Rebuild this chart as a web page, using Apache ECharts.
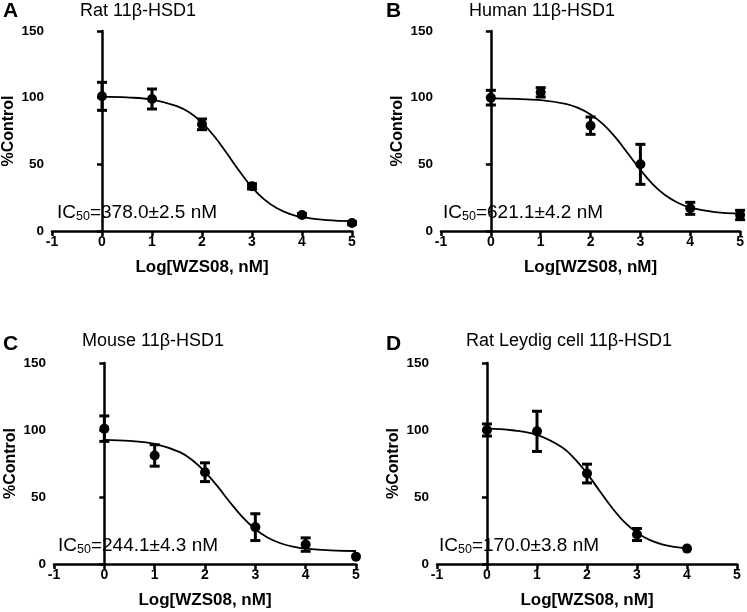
<!DOCTYPE html>
<html>
<head>
<meta charset="utf-8">
<title>11β-HSD1 inhibition by WZS08</title>
<style>
  html, body { margin: 0; padding: 0; background: #fff; }
  #chart { width: 747px; height: 612px; }
</style>
</head>
<body>
<div id="chart"></div>
<script src="https://cdn.jsdelivr.net/npm/echarts@6/dist/echarts.min.js"></script>
<script>
// measured points (log dose, mean %control, SEM)
var doseX = [0, 1, 2, 3, 4, 5];
var leydigX = [0, 1, 2, 3, 4];

var ratMean = [101, 99, 80, 33.5, 12, 6];
var ratErr = [10.5, 7.5, 4, 2, 1, 1];
var humanMean = [100, 104, 79, 50, 17, 12];
var humanErr = [5.5, 3.5, 6.5, 15, 4.5, 3.5];
var mouseMean = [101, 81, 68.5, 27.5, 14.5, 5.5];
var mouseErr = [9.5, 8, 7, 10, 5, 0];
var leydigMean = [100, 99, 67.5, 22, 11.5];
var leydigErr = [4.5, 15, 7, 4.5, 0];

// fitted curves
var fitX = [0, 0.5, 1, 1.5, 1.75, 2, 2.25, 2.5, 2.75, 3, 3.25, 3.5, 3.75, 4, 4.5, 5];
var ratFit = [100.8, 100.2, 98.6, 93.7, 88.8, 81.3, 70.9, 58.1, 44.8, 32.7, 23.5, 17.0, 12.9, 10.4, 8.1, 7.4];
var humanFit = [99.4, 99.1, 98.1, 95.3, 92.3, 87.4, 80.2, 70.2, 58.1, 45.8, 35.0, 26.8, 21.2, 17.6, 14.2, 13.0];
var mouseFit = [92.7, 91.9, 89.7, 83.5, 77.4, 68.8, 57.9, 45.9, 34.8, 25.9, 19.6, 15.5, 13.0, 11.5, 10.1, 9.7];
var leydigFitX = [0, 0.5, 1, 1.5, 1.75, 2, 2.25, 2.5, 2.75, 3, 3.25, 3.5, 3.75, 4];
var leydigFit = [101.0, 99.8, 96.4, 87.2, 78.7, 67.6, 54.7, 42.0, 31.2, 23.3, 18.0, 14.7, 12.7, 11.5];

var xTicks = ['-1', '0', '1', '2', '3', '4', '5'];
var yTicks = ['0', '50', '100', '150'];

var letters = ['A', 'B', 'C', 'D'];
var names = ['Rat 11β-HSD1', 'Human 11β-HSD1', 'Mouse 11β-HSD1', 'Rat Leydig cell 11β-HSD1'];
var ic50 = ['378.0±2.5', '621.1±4.2', '244.1±4.3', '170.0±3.8'];

var font = "'Liberation Sans', Arial, Helvetica, sans-serif";

var panels = [
  { x: doseX, mean: ratMean, err: ratErr, fx: fitX, fy: ratFit,
    grid: { left: 52, width: 300, top: 31, height: 200 },
    letter: [3, 1], name: [80, 2], ic: [57, 202] },
  { x: doseX, mean: humanMean, err: humanErr, fx: fitX, fy: humanFit,
    grid: { left: 441, width: 300, top: 31, height: 200 },
    letter: [386, 1], name: [469, 2], ic: [443, 202] },
  { x: doseX, mean: mouseMean, err: mouseErr, fx: fitX, fy: mouseFit,
    grid: { left: 54, width: 302, top: 363, height: 201 },
    letter: [3, 334], name: [82, 332], ic: [58, 535] },
  { x: leydigX, mean: leydigMean, err: leydigErr, fx: leydigFitX, fy: leydigFit,
    grid: { left: 437, width: 300, top: 363, height: 201 },
    letter: [386, 334], name: [466, 332], ic: [439, 535] }
];

function zip(a, b) {
  var out = [];
  for (var i = 0; i < a.length; i++) out.push([a[i], b[i]]);
  return out;
}

function errorBars(params, api) {
  var x = api.value(0), y = api.value(1), e = api.value(2);
  if (!e) return null;
  var hi = api.coord([x, y + e]);
  var lo = api.coord([x, y - e]);
  var cap = 5;
  var st = { stroke: '#000', lineWidth: 3 };
  return {
    type: 'group',
    children: [
      { type: 'line', shape: { x1: hi[0], y1: hi[1], x2: lo[0], y2: lo[1] }, style: st },
      { type: 'line', shape: { x1: hi[0] - cap, y1: hi[1], x2: hi[0] + cap, y2: hi[1] }, style: st },
      { type: 'line', shape: { x1: lo[0] - cap, y1: lo[1], x2: lo[0] + cap, y2: lo[1] }, style: st }
    ]
  };
}

var grids = [], xAxes = [], yAxes = [], series = [], titles = [];

panels.forEach(function (p, i) {
  grids.push(p.grid);
  xAxes.push({
    type: 'value', gridIndex: i, min: -1, max: 5, interval: 1,
    name: 'Log[WZS08, nM]', nameLocation: 'middle', nameGap: 28,
    nameTextStyle: { fontFamily: font, fontWeight: 'bold', fontSize: 17, color: '#000' },
    axisLine: { onZero: false, lineStyle: { color: '#000', width: 2.5 } },
    axisTick: { show: true, length: 5, lineStyle: { color: '#000', width: 2.5 } },
    axisLabel: { fontFamily: font, fontWeight: 'bold', fontSize: 14, color: '#000', margin: 4,
      formatter: function (v) { return xTicks[v + 1]; } },
    splitLine: { show: false }
  });
  yAxes.push({
    type: 'value', gridIndex: i, min: 0, max: 150, interval: 50,
    name: '%Control', nameLocation: 'middle', nameGap: 35,
    nameTextStyle: { fontFamily: font, fontWeight: 'bold', fontSize: 16, color: '#000' },
    axisLine: { show: true, lineStyle: { color: '#000', width: 2.5 } },
    axisTick: { show: true, length: 5, lineStyle: { color: '#000', width: 2.5 } },
    axisLabel: { fontFamily: font, fontWeight: 'bold', fontSize: 13.5, color: '#000', margin: 8,
      formatter: function (v) { return yTicks[v / 50]; } },
    splitLine: { show: false }
  });
  series.push({
    type: 'line', xAxisIndex: i, yAxisIndex: i, data: zip(p.fx, p.fy),
    smooth: 0.4, showSymbol: false, silent: true,
    lineStyle: { color: '#000', width: 1.8 }
  });
  var pts = [];
  for (var k = 0; k < p.x.length; k++) pts.push([p.x[k], p.mean[k], p.err[k]]);
  series.push({
    type: 'custom', xAxisIndex: i, yAxisIndex: i, data: pts,
    renderItem: errorBars, z: 3
  });
  series.push({
    type: 'scatter', xAxisIndex: i, yAxisIndex: i, data: pts,
    symbol: 'circle', symbolSize: 10, itemStyle: { color: '#000', opacity: 1 }, z: 4
  });
  titles.push({
    text: letters[i], left: p.letter[0], top: p.letter[1], padding: 0,
    textStyle: { fontFamily: font, fontWeight: 'bold', fontSize: 21, color: '#000' }
  });
  titles.push({
    text: names[i], left: p.name[0], top: p.name[1], padding: 0,
    textStyle: { fontFamily: font, fontWeight: 'normal', fontSize: 18, color: '#000' }
  });
  titles.push({
    text: '{n|IC}{s|50}{n|=' + ic50[i] + ' nM}', left: p.ic[0], top: p.ic[1], padding: 0,
    textStyle: {
      fontWeight: 'normal',
      rich: {
        n: { fontFamily: font, fontWeight: 'normal', fontSize: 19, color: '#000', lineHeight: 22 },
        s: { fontFamily: font, fontWeight: 'normal', fontSize: 12.5, color: '#000', lineHeight: 22, padding: [8, 0, 0, 0] }
      }
    }
  });
});

var chart = echarts.init(document.getElementById('chart'));
chart.setOption({
  backgroundColor: '#fff',
  animation: false,
  title: titles,
  grid: grids,
  xAxis: xAxes,
  yAxis: yAxes,
  series: series
});
</script>
</body>
</html>
